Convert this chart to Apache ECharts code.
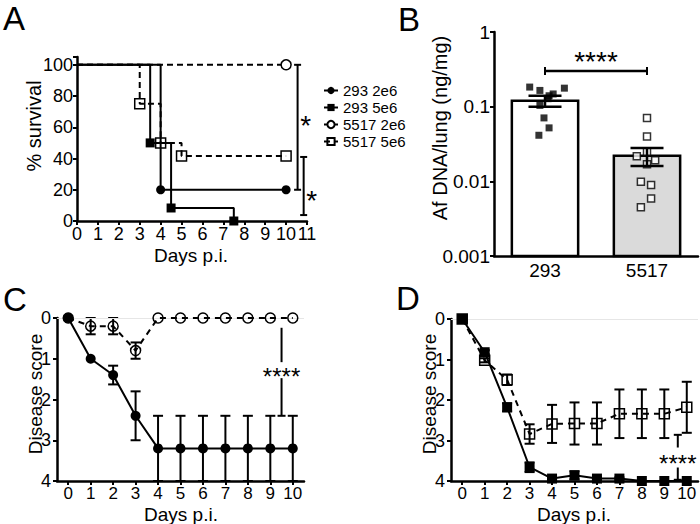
<!DOCTYPE html>
<html><head><meta charset="utf-8">
<script src="https://cdn.jsdelivr.net/npm/echarts@6/dist/echarts.min.js"></script>
<style>html,body{margin:0;padding:0;background:#fff}#c{width:700px;height:524px}</style>
</head><body><div id="c"></div>
<script>
// ===== Panel A: survival =====
const survXTicks = [0,1,2,3,4,5,6,7,8,9,10,11];
const survYTicks = [0,20,40,60,80,100];
const survNames = ['293 2e6','293 5e6','5517 2e6','5517 5e6'];
const surv293_2e6  = [[0,100],[4,20],[10,20]];
const surv293_5e6  = [[0,100],[3.5,50],[4.5,8.33],[7.5,0]];
const surv5517_2e6 = [[0,100],[10,100]];
const surv5517_5e6 = [[0,100],[3,75],[4,50],[5,41.67],[10,41.67]];
const survSig = [ {x:10.55, from:100, to:20, textAt:66, label:'*'},
                  {x:10.84, from:41,  to:3.8, textAt:18, label:'*'} ];

// ===== Panel B: fungal DNA =====
const dnaCats = ['293','5517'];
const dnaMean = [0.12, 0.022];
const dnaSem  = [0.02, 0.006];
const dna293  = [0.183,0.165,0.140,0.148,0.177,0.128,0.104,0.0707,0.052,0.0414];
const dna5517 = [0.0706,0.0398,0.0249,0.0216,0.0192,0.0169,0.0099,0.0089,0.0059,0.0045];
const dnaTickLabels = ['0.001','0.01','0.1','1'];
const dnaSig = {from:0, to:1, y:0.3, textAt:0.5, label:'****'};

// ===== Panels C & D: disease score =====
const days = [0,1,2,3,4,5,6,7,8,9,10];
const dayLabels = ['0','1','2','3','4','5','6','7','8','9','10'];
const scoreTicks = [0,1,2,3,4];
const c293Mean  = [0,1.0,1.4,2.4,3.2,3.2,3.2,3.2,3.2,3.2,3.2];
const c293Sem   = [0,0,0.23,0.6,0.8,0.8,0.8,0.8,0.8,0.8,0.8];
const c5517Mean = [0,0.2,0.2,0.8,0,0,0,0,0,0,0];
const c5517Sem  = [0,0.2,0.2,0.2,0,0,0,0,0,0,0];
const cSig = {x:9.5, from:0.24, to:2.4, textAt:1.28, label:'****'};
const d293Mean  = [0,0.82,2.18,3.66,3.94,3.86,3.94,3.94,4,4,4];
const d293Sem   = [0,0.05,0.1,0.12,0.03,0.1,0.03,0.03,0,0,0];
const d5517Mean = [0,1.02,1.5,2.84,2.59,2.58,2.58,2.34,2.34,2.34,2.18];
const d5517Sem  = [0,0.05,0.13,0.24,0.47,0.52,0.52,0.6,0.6,0.6,0.63];
const dSig = {x:9.6, from:2.86, to:3.97, textAt:3.42, label:'****'};

// jitter of dots inside bars (category units)
const jit293  = [-0.15,-0.05,0.04,0.08,0.19,0.03,-0.05,-0.01,0.04,-0.06];
const jit5517 = [0,0,0,-0.1,0.08,0,-0.06,0.04,0.04,-0.06];

const FF = '"Liberation Sans", Arial, sans-serif';
const BLACK = '#000';
const chart = echarts.init(document.getElementById('c'), null, {renderer:'svg'});

function ln(x1,y1,x2,y2,w){return {type:'line',shape:{x1,y1,x2,y2},style:{stroke:BLACK,lineWidth:w||2}};}
function txt(x,y,t,size){return {type:'text',x,y,style:{text:t,fill:BLACK,font:size+'px '+FF,align:'center',verticalAlign:'middle'}};}
function km(arr){return arr.map((p,i)=> i===0 ? {value:p, symbol:'none'} : {value:p});}

const axLine = {show:true, onZero:false, lineStyle:{color:BLACK, width:2.5}};
const axTick = {show:true, inside:false, length:4, lineStyle:{color:BLACK, width:2}};
function lab(size, margin, extra){return Object.assign({color:BLACK, fontFamily:FF, fontSize:size, margin:margin}, extra||{});}

function errSeries(xi, yi, mean, sem, hw, w, name){
  return {type:'custom', name:name, xAxisIndex:xi, yAxisIndex:yi, z:4,
    data: mean.map((m,i)=>[i, m, sem[i]]),
    renderItem:(p,api)=>{
      const x=api.value(0), m=api.value(1), s=api.value(2);
      if(!s) return;
      const a=api.coord([x,m-s]), b=api.coord([x,m+s]);
      return {type:'group',children:[ln(a[0],a[1],b[0],b[1],w),ln(a[0]-hw,a[1],a[0]+hw,a[1],w),ln(b[0]-hw,b[1],b[0]+hw,b[1],w)]};
    }};
}
function scoreLine(xi, yi, mean, name, dashed, sym, open){
  return {type:'line', name:name, xAxisIndex:xi, yAxisIndex:yi, z:5,
    data: days.map((d,i)=>[d, mean[i]]),
    symbol: sym, symbolSize: 10,
    itemStyle: open ? {color:'rgba(255,255,255,0)', borderColor:BLACK, borderWidth:1.5} : {color:BLACK},
    lineStyle:{color:BLACK, width:2, type: dashed ? [6,5] : 'solid'}};
}
function vSig(xi, yi, sig, gap, capTop, capBot, fsz){
  return {type:'custom', xAxisIndex:xi, yAxisIndex:yi, z:6, data:[[sig.x, sig.from, sig.to, sig.textAt]],
    renderItem:(p,api)=>{
      const a=api.coord([api.value(0),api.value(1)]), b=api.coord([api.value(0),api.value(2)]), t=api.coord([api.value(0),api.value(3)]);
      const ch=[ln(a[0],a[1],a[0],t[1]-gap,2), ln(a[0],t[1]+gap,b[0],b[1],2), txt(t[0],t[1]+fsz*0.27,sig.label,fsz)];
      if(capTop) ch.push(ln(a[0]-4,a[1],a[0]+4,a[1],2));
      if(capBot) ch.push(ln(b[0]-4,b[1],b[0]+4,b[1],2));
      return {type:'group',children:ch};
    }};
}

const option = {
  backgroundColor:'#fff',
  animation:false,
  grid:[
    {left:77, top:57, width:230, height:164, outerBoundsMode:'none'},
    {left:494, top:32, width:204, height:224, outerBoundsMode:'none'},
    {left:57, top:318, width:247, height:163, outerBoundsMode:'none'},
    {left:451, top:319, width:247, height:162, outerBoundsMode:'none'}
  ],
  legend:{orient:'vertical', left:318, top:78, itemWidth:14, itemHeight:9, itemGap:2,
    textStyle:{color:BLACK, fontFamily:FF, fontSize:15}, data:survNames},
  xAxis:[
    {gridIndex:0, type:'value', min:survXTicks[0], max:survXTicks[survXTicks.length-1], interval:1, position:'bottom',
      axisLine:axLine, axisTick:axTick, splitLine:{show:false}, axisLabel:lab(18,4)},
    {gridIndex:1, type:'category', data:dnaCats, position:'bottom', boundaryGap:true,
      axisLine:axLine, axisTick:{show:false}, splitLine:{show:false}, axisLabel:lab(19,5)},
    {gridIndex:1, type:'value', min:-0.5, max:1.5, show:false, position:'top'},
    {gridIndex:2, type:'category', data:dayLabels, position:'bottom', boundaryGap:true,
      axisLine:axLine, axisTick:Object.assign({alignWithLabel:true, interval:0}, axTick), splitLine:{show:false}, axisLabel:lab(17,4,{interval:0})},
    {gridIndex:2, type:'value', min:-0.5, max:10.5, show:false, position:'top'},
    {gridIndex:3, type:'category', data:dayLabels, position:'bottom', boundaryGap:true,
      axisLine:axLine, axisTick:Object.assign({alignWithLabel:true, interval:0}, axTick), splitLine:{show:false}, axisLabel:lab(17,4,{interval:0})},
    {gridIndex:3, type:'value', min:-0.5, max:10.5, show:false, position:'top'}
  ],
  yAxis:[
    {gridIndex:0, type:'value', min:0, max:105, interval:20, axisLine:axLine, axisTick:axTick, splitLine:{show:false},
      axisLabel:lab(18,4,{formatter:v=> survYTicks.indexOf(v)>=0 ? String(v) : ''})},
    {gridIndex:1, type:'log', logBase:10, min:0.001, max:1, axisLine:axLine, axisTick:axTick, splitLine:{show:false}, minorTick:{show:false},
      axisLabel:lab(19,4,{formatter:v=> dnaTickLabels[Math.round(Math.log10(v))+3] || ''})},
    {gridIndex:2, type:'value', min:0, max:4, interval:1, inverse:true, axisLine:axLine, axisTick:axTick, splitLine:{show:false},
      axisLabel:lab(18,6,{formatter:v=> scoreTicks.indexOf(v)>=0 ? String(v) : ''})},
    {gridIndex:3, type:'value', min:0, max:4, interval:1, inverse:true, axisLine:axLine, axisTick:axTick, splitLine:{show:false},
      axisLabel:lab(18,6,{formatter:v=> scoreTicks.indexOf(v)>=0 ? String(v) : ''})}
  ],
  series:[
    // ---- A ----
    {type:'line', name:survNames[0], xAxisIndex:0, yAxisIndex:0, step:'end', data:km(surv293_2e6),
      symbol:'circle', symbolSize:9, itemStyle:{color:BLACK}, lineStyle:{color:BLACK, width:2}, z:5},
    {type:'line', name:survNames[1], xAxisIndex:0, yAxisIndex:0, step:'end', data:km(surv293_5e6),
      symbol:'rect', symbolSize:9, itemStyle:{color:BLACK}, lineStyle:{color:BLACK, width:2}, z:5},
    {type:'line', name:survNames[2], xAxisIndex:0, yAxisIndex:0, step:'end', data:km(surv5517_2e6),
      symbol:'circle', symbolSize:10, itemStyle:{color:'#fff', borderColor:BLACK, borderWidth:1.5}, lineStyle:{color:BLACK, width:2, type:[6,4]}, z:4},
    {type:'line', name:survNames[3], xAxisIndex:0, yAxisIndex:0, step:'end', data:km(surv5517_5e6),
      symbol:'rect', symbolSize:10, itemStyle:{color:'rgba(255,255,255,0)', borderColor:BLACK, borderWidth:1.5}, lineStyle:{color:BLACK, width:2, type:[6,4]}, z:4},
    {type:'custom', name:'sigA', xAxisIndex:0, yAxisIndex:0, z:6, data:survSig.map(s=>[s.x,s.from,s.to,s.textAt]),
      renderItem:(p,api)=>{
        const s=survSig[p.dataIndex];
        const a=api.coord([api.value(0),api.value(1)]), b=api.coord([api.value(0),api.value(2)]), t=api.coord([api.value(0),api.value(3)]);
        return {type:'group',children:[ln(a[0],a[1],b[0],b[1],2),ln(a[0]-3.5,a[1],a[0]+3.5,a[1],2),ln(b[0]-3.5,b[1],b[0]+3.5,b[1],2),
          txt(t[0]+8,t[1]+7.5,s.label,28)]};
      }},
    // ---- B ----
    {type:'custom', name:'barsB', xAxisIndex:1, yAxisIndex:1, z:2, data:dnaMean.map((m,i)=>[i,m]),
      renderItem:(p,api)=>{
        const base=api.coord([api.value(0),0.001]), top=api.coord([api.value(0),api.value(1)]);
        const w=api.size([1,0])[0]*0.65;
        return {type:'rect', shape:{x:top[0]-w/2, y:top[1], width:w, height:base[1]-top[1]},
          style:{fill: p.dataIndex===0 ? '#ffffff' : '#dadada', stroke:BLACK, lineWidth:2.5}};
      }},
    {type:'scatter', name:'dots293', xAxisIndex:2, yAxisIndex:1, z:3, symbol:'rect', symbolSize:7,
      itemStyle:{color:BLACK}, data:dna293.map((v,i)=>[0+jit293[i], v])},
    {type:'scatter', name:'dots5517', xAxisIndex:2, yAxisIndex:1, z:3, symbol:'rect', symbolSize:7,
      itemStyle:{color:'#fff', borderColor:BLACK, borderWidth:1.5}, data:dna5517.map((v,i)=>[1+jit5517[i], v])},
    errSeries(1, 1, dnaMean, dnaSem, 16.5, 2.5, 'errB'),
    {type:'custom', name:'sigB', xAxisIndex:2, yAxisIndex:1, z:6, data:[[dnaSig.from, dnaSig.to, dnaSig.y, dnaSig.textAt]],
      renderItem:(p,api)=>{
        const a=api.coord([api.value(0),api.value(2)]), b=api.coord([api.value(1),api.value(2)]);
        const t=api.coord([(api.value(0)+api.value(1))/2, api.value(3)]);
        return {type:'group',children:[ln(a[0],a[1],b[0],b[1],2.5),ln(a[0],a[1]-4,a[0],a[1]+4,2),ln(b[0],b[1]-4,b[0],b[1]+4,2),
          txt(t[0],t[1]+7.5,dnaSig.label,28)]};
      }},
    // ---- C ----
    errSeries(4, 2, c293Mean, c293Sem, 5, 2, 'errC293'),
    errSeries(4, 2, c5517Mean, c5517Sem, 5, 2, 'errC5517'),
    Object.assign(scoreLine(4, 2, c5517Mean, 'C 5517', true, 'circle', true),
      {markLine:{silent:true, symbol:'none', label:{show:false}, lineStyle:{color:'#e6e6e6', width:1, type:'solid'}, data:[{yAxis:0}]}}),
    scoreLine(4, 2, c293Mean, 'C 293', false, 'circle', false),
    vSig(4, 2, cSig, 8, false, true, 24),
    // ---- D ----
    errSeries(6, 3, d5517Mean, d5517Sem, 5, 2, 'errD5517'),
    errSeries(6, 3, d293Mean, d293Sem, 5, 2, 'errD293'),
    Object.assign(scoreLine(6, 3, d5517Mean, 'D 5517', true, 'rect', true),
      {markLine:{silent:true, symbol:'none', label:{show:false}, lineStyle:{color:'#e6e6e6', width:1, type:'solid'}, data:[{yAxis:0}]}}),
    scoreLine(6, 3, d293Mean, 'D 293', false, 'rect', false),
    vSig(6, 3, dSig, 10, true, true, 24)
  ],
  graphic:[
    {type:'text', left:3, top:2, style:{text:'A', fill:BLACK, font:'33px '+FF}},
    {type:'text', left:398, top:3, style:{text:'B', fill:BLACK, font:'33px '+FF}},
    {type:'text', left:3, top:283, style:{text:'C', fill:BLACK, font:'33px '+FF}},
    {type:'text', left:396, top:282, style:{text:'D', fill:BLACK, font:'33px '+FF}},
    {type:'text', x:191, y:255, style:{text:'Days p.i.', fill:BLACK, font:'19px '+FF, align:'center', verticalAlign:'middle'}},
    {type:'text', x:34, y:126, rotation:Math.PI/2, style:{text:'% survival', fill:BLACK, font:'20px '+FF, align:'center', verticalAlign:'middle'}},
    {type:'text', x:440, y:128, rotation:Math.PI/2, style:{text:'Af DNA/lung (ng/mg)', fill:BLACK, font:'20px '+FF, align:'center', verticalAlign:'middle'}},
    {type:'text', x:181, y:514, style:{text:'Days p.i.', fill:BLACK, font:'19px '+FF, align:'center', verticalAlign:'middle'}},
    {type:'text', x:35, y:394, rotation:Math.PI/2, style:{text:'Disease score', fill:BLACK, font:'19px '+FF, align:'center', verticalAlign:'middle'}},
    {type:'text', x:574, y:514, style:{text:'Days p.i.', fill:BLACK, font:'19px '+FF, align:'center', verticalAlign:'middle'}},
    {type:'text', x:429, y:394, rotation:Math.PI/2, style:{text:'Disease score', fill:BLACK, font:'19px '+FF, align:'center', verticalAlign:'middle'}}
  ]
};
chart.setOption(option);
</script></body></html>
